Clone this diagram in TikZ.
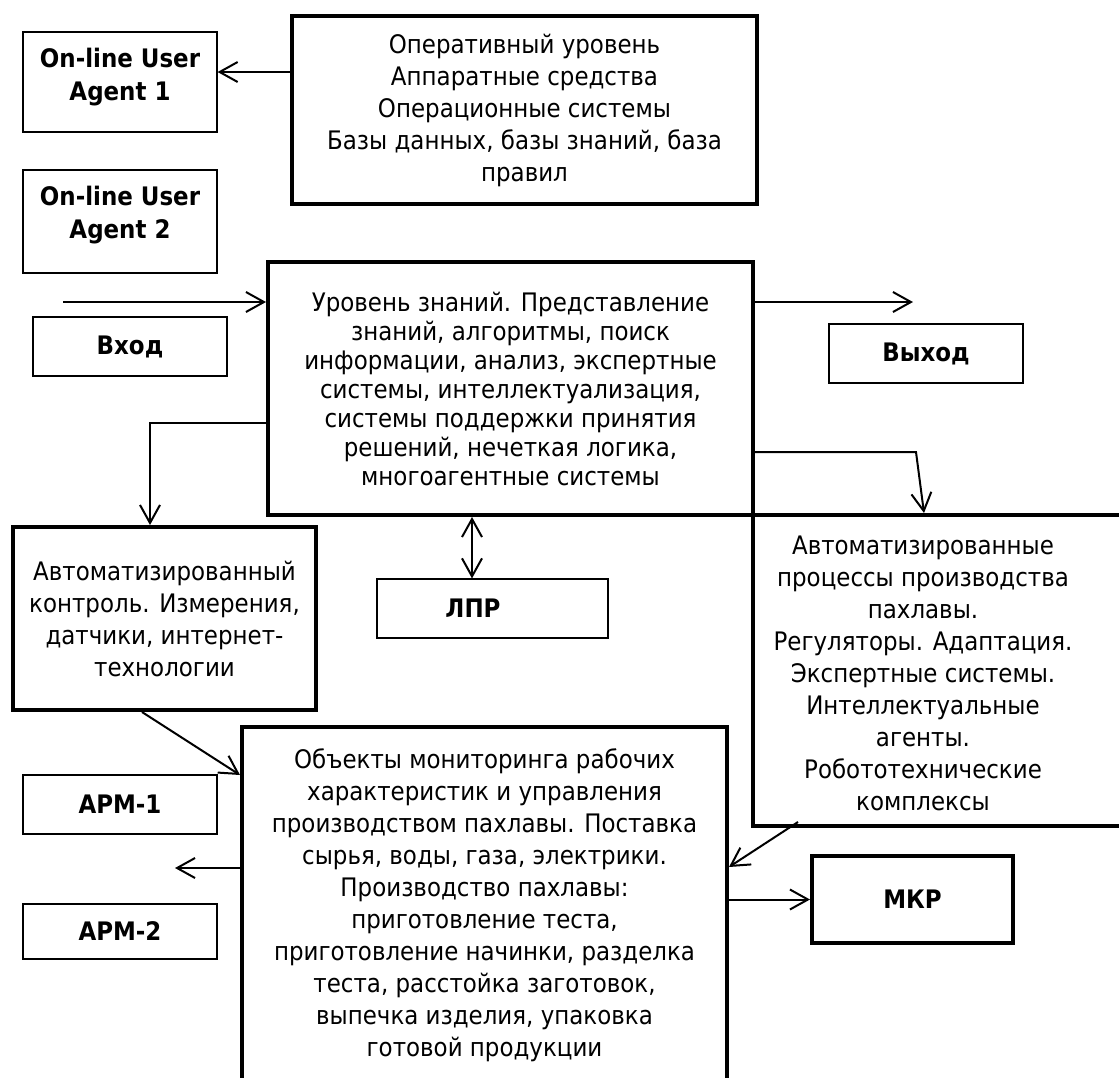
\documentclass[tikz,border=0pt]{standalone}
\usepackage{fontspec}
\setmainfont{DejaVu Sans}[FakeStretch=0.9]
\usetikzlibrary{arrows.meta,calc}

\begin{document}
\begin{tikzpicture}[
    x=1pt,y=-1pt,
    >={Straight Barb[length=18pt,width=20pt]},
    every node/.style={align=center,inner sep=0pt,font=\fontsize{25.5}{32}\selectfont},
    thickbox/.style={draw,line width=4pt},
    thinbox/.style={draw,line width=1.2pt},
    boldtext/.style={font=\bfseries\fontsize{25.5}{33}\selectfont},
    conn/.style={line width=2pt}
  ]
  \useasboundingbox (0,0) rectangle (1119,1077);

  % left column
  \node[thinbox,minimum width=194pt,minimum height=100pt] (ua1) at (120,82) {};
  \node[boldtext] (ua1-t) at ($(ua1)+(0,-5)$) {On-line User\\Agent 1};
  \node[thinbox,minimum width=194pt,minimum height=103pt] (ua2) at (120,221.5) {};
  \node[boldtext] (ua2-t) at ($(ua2)+(0,-6)$) {On-line User\\Agent 2};
  \node[thinbox,boldtext,minimum width=194pt,minimum height=59pt] (vhod) at (130,346.5) {Вход};
  \node[thickbox,minimum width=303pt,minimum height=183pt] (avtk) at (164.5,618.5)
    {Автоматизированный\\контроль. Измерения,\\датчики, интернет-\\технологии};
  \node[thinbox,boldtext,minimum width=194pt,minimum height=59pt] (apm1) at (120,804.5) {АРМ-1};
  \node[thinbox,boldtext,minimum width=194pt,minimum height=55pt] (apm2) at (120,931.5) {АРМ-2};

  % middle
  \node[thickbox,minimum width=465pt,minimum height=188pt] (oper) at (524.5,110)
    {Оперативный уровень\\Аппаратные средства\\Операционные системы\\Базы данных, базы знаний, база\\правил};
  \node[thickbox,minimum width=485pt,minimum height=253pt,font=\fontsize{25.5}{29}\selectfont] (know) at (510.5,388.5)
    {Уровень знаний. Представление\\знаний, алгоритмы, поиск\\информации, анализ, экспертные\\системы, интеллектуализация,\\системы поддержки принятия\\решений, нечеткая логика,\\многоагентные системы};
  \node[thinbox,minimum width=231pt,minimum height=59pt] (lpr) at (492.5,608.5) {};
  \node[boldtext] (lpr-t) at ($(lpr)+(-19.5,0)$) {ЛПР};
  \node[thickbox,minimum width=485pt,minimum height=356pt] (obj) at (484.5,905)
    {Объекты мониторинга рабочих\\характеристик и управления\\производством пахлавы. Поставка\\сырья, воды, газа, электрики.\\Производство пахлавы:\\приготовление теста,\\приготовление начинки, разделка\\теста, расстойка заготовок,\\выпечка изделия, упаковка\\готовой продукции};

  % right column
  \node[thinbox,boldtext,minimum width=194pt,minimum height=59pt] (vyhod) at (926,353.5) {Выход};
  \node[thickbox,minimum width=368pt,minimum height=311pt] (proc) at (937,670.5) {};
  \node (proc-t) at ($(proc)+(-14,3)$)
    {Автоматизированные\\процессы производства\\пахлавы.\\Регуляторы. Адаптация.\\Экспертные системы.\\Интеллектуальные\\агенты.\\Робототехнические\\комплексы};
  \node[thickbox,boldtext,minimum width=201pt,minimum height=87pt] (mkr) at (912.5,899.5) {МКР};

  % connectors
  \draw[conn,->] ($(oper.west)+(0,-38)$) coordinate (a1) -- (a1 -| ua1.east);
  \coordinate (inp) at (63,302);
  \draw[conn,->] (inp) -- (inp -| know.west);
  \coordinate (outp) at (913,302);
  \draw[conn,->] (outp -| know.east) -- (outp);
  \draw[conn,->] ($(know.west)+(0,34.5)$) -| ($(avtk.north)+(-14.5,0)$);
  \draw[conn,->] ($(know.east)+(0,63.5)$) -- ++(161,0) -- ($(proc.north)+(-13,0)$);
  \coordinate (lx) at (472,0);
  \draw[conn,<->] (know.south -| lx) -- (lpr.north -| lx);
  \draw[conn,->] ($(avtk.south)+(-22.5,0)$) -- ($(obj.west)+(0,-130)$);
  \draw[conn,->] ($(obj.west)+(0,-37)$) -- ++(-65,0);
  \draw[conn,->] ($(proc.south west)+(47,-6)$) -- ($(obj.east)+(0,-38)$);
  \draw[conn,->] (obj.east |- mkr.west) -- (mkr.west);
\end{tikzpicture}
\end{document}
